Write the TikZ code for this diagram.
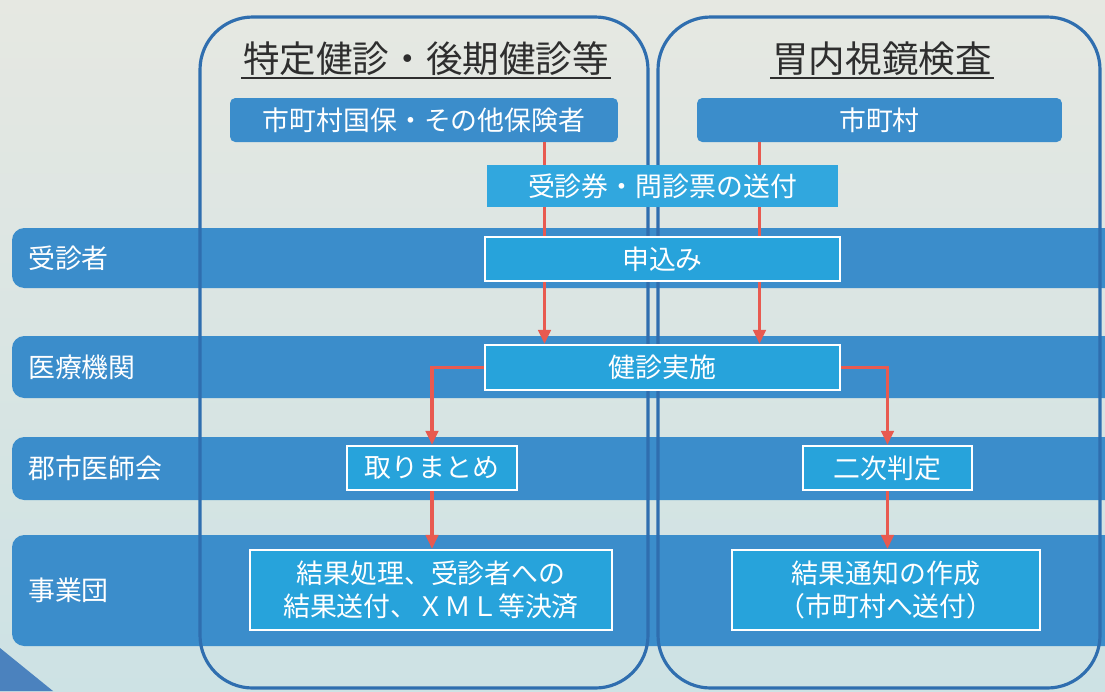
\documentclass[tikz,border=0pt]{standalone}
\usepackage{fontspec}
\setmainfont{Noto Sans CJK JP}
\usetikzlibrary{arrows.meta,positioning,calc}
\pgfdeclarelayer{back}
\pgfsetlayers{back,main}
\definecolor{lanebl}{HTML}{3B8DCB}
\definecolor{boxcy}{HTML}{27A3DB}
\definecolor{sendcy}{HTML}{31A7DE}
\definecolor{colbl}{HTML}{2F6EAF}
\definecolor{flowred}{HTML}{E85A50}
\definecolor{bgtop}{HTML}{E6E8E2}
\definecolor{bgbot}{HTML}{CDE2E4}
\definecolor{cornerbl}{HTML}{4B82BE}
\newcommand{\boxfont}{\fontsize{15.3}{18.5}\selectfont}
\tikzstyle{lane}=[fill=lanebl, rounded corners=7pt]
\tikzstyle{lanetxt}=[anchor=west, text=white, font=\boxfont]
\tikzstyle{col}=[draw=colbl, line width=1.8pt, rounded corners=30pt]
\tikzstyle{title}=[text=black!82, inner sep=1pt,
    font=\fontsize{20.8}{24}\selectfont]
\tikzstyle{uline}=[draw=black!82, line width=0.8pt]
\tikzstyle{org}=[fill=lanebl, text=white, rounded corners=3pt,
    minimum height=0.88cm, font=\boxfont]
\tikzstyle{send}=[fill=sendcy, text=white,
    minimum height=0.84cm, font=\boxfont]
\tikzstyle{proc}=[draw=white, line width=1.2pt, fill=boxcy, text=white,
    align=center, minimum height=0.88cm, font=\boxfont]
\tikzstyle{flow}=[draw=flowred, line width=1.9pt,
    -{Triangle[length=8pt,width=7pt]}]

\begin{document}
\begin{tikzpicture}[x=0.02cm,y=-0.02cm]
    \useasboundingbox (0,0) rectangle (1105,691);
    % top boxes and the exam box first, so the red lines pass under the others
    \node (ins) [org, minimum width=7.76cm] at (424,120) {市町村国保・その他保険者};
    \node (mun) [org, minimum width=7.3cm] at (879.5,120) {市町村};
    \node (exam) [proc, minimum width=7.1cm, minimum height=0.9cm] at (662.5,367.5) {健診実施};
    \coordinate (inL) at (exam.north -| 544.5,0);
    \coordinate (inR) at (exam.north -| 759.5,0);
    \draw[flow] (ins.south -| inL) -- (inL);
    \draw[flow] (mun.south -| inR) -- (inR);
    \node (send) [send, minimum width=7.02cm] at (662.5,186) {受診券・問診票の送付};
    \node (apply) [proc, minimum width=7.1cm] at (662.5,259) {申込み};
    \node (sum) [proc, minimum width=3.4cm] at (432,468) {取りまとめ};
    \node (judge) [proc, minimum width=3.38cm] at (887.5,468) {二次判定};
    \node (res) [proc, minimum width=7.24cm, minimum height=1.6cm] at (431,590)
        {結果処理、受診者への\\結果送付、ＸＭＬ等決済};
    \node (notice) [proc, minimum width=6.16cm, minimum height=1.6cm] at (886,590)
        {結果通知の作成\\（市町村へ送付）};
    \draw[flow] (exam.west) -| (sum.north);
    \draw[flow] (exam.east) -| (judge.north);
    \draw[flow] (sum.south) -- (sum.south |- res.north);
    \draw[flow] (judge.south) -- (judge.south |- notice.north);
    % headings
    \node (head1) [title] at (426,59) {特定健診・後期健診等};
    \node (head2) [title] at (882,59) {胃内視鏡検査};
    \draw[uline] (head1.south west) -- (head1.south east);
    \draw[uline] (head2.south west) -- (head2.south east);
    % lane labels
    \node (l1) [lanetxt] at (22,258) {受診者};
    \node (l2) [lanetxt] at (22,367) {医療機関};
    \node (l3) [lanetxt] at (22,468) {郡市医師会};
    \node (l4) [lanetxt] at (22,590) {事業団};
    \begin{pgfonlayer}{back}
        \shade[top color=bgtop, bottom color=bgbot] (0,0) rectangle (1105,691);
        \fill[cornerbl] (0,648) -- (53,691) -- (0,691) -- cycle;
        \path[lane] (12,228) rectangle (1130,288);
        \path[lane] (12,336) rectangle (1130,398);
        \path[lane] (12,437) rectangle (1130,500);
        \path[lane] (12,535) rectangle (1130,646);
        \draw[col] (200,17) rectangle (648,688);
        \draw[col] (658,17) rectangle (1100,688);
    \end{pgfonlayer}
\end{tikzpicture}
\end{document}
